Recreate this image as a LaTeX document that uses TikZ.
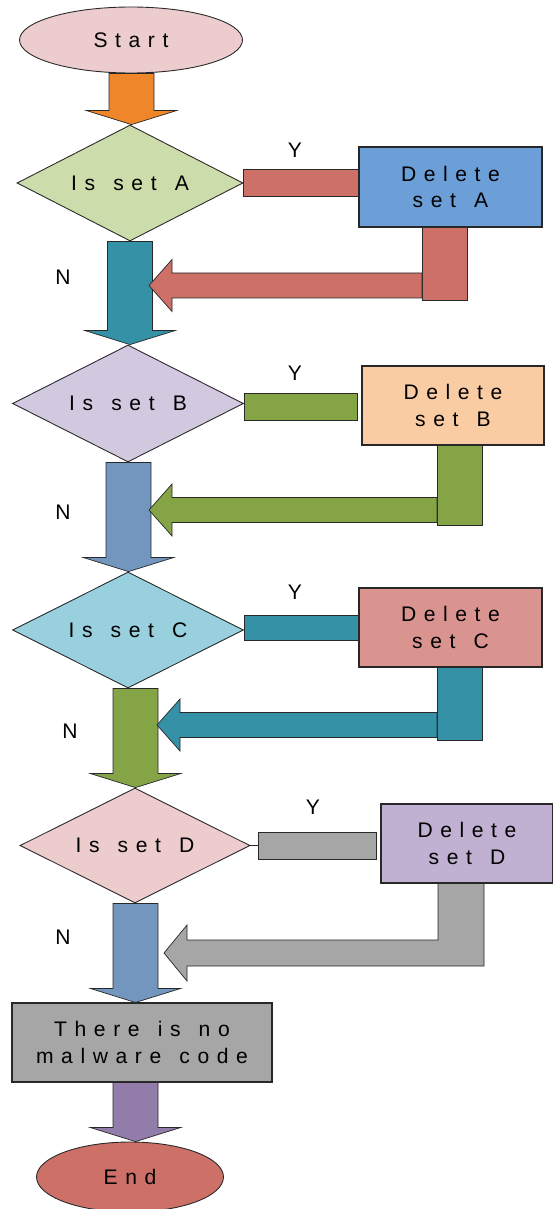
\documentclass[tikz,border=0pt]{standalone}
\usepackage{fontspec}
\setmainfont{Liberation Sans}
\newfontfamily\spaced{Liberation Sans}[LetterSpace=36,WordSpace=1.35]
\usetikzlibrary{shapes.geometric,calc}
\definecolor{pinkc}{RGB}{236,204,204}
\definecolor{orangec}{RGB}{240,134,42}
\definecolor{greenlc}{RGB}{204,220,170}
\definecolor{tealc}{RGB}{53,145,166}
\definecolor{redc}{RGB}{204,112,104}
\definecolor{blueboxc}{RGB}{108,158,216}
\definecolor{lavc}{RGB}{210,200,224}
\definecolor{greenc}{RGB}{132,164,70}
\definecolor{peachc}{RGB}{250,204,164}
\definecolor{bluec}{RGB}{114,150,190}
\definecolor{cyanlc}{RGB}{152,208,222}
\definecolor{rosec}{RGB}{218,148,144}
\definecolor{grayc}{RGB}{166,166,166}
\definecolor{lilacc}{RGB}{192,176,210}
\definecolor{purplec}{RGB}{146,124,170}
\definecolor{edgec}{RGB}{40,40,40}
\newcommand{\lbl}{\spaced\fontsize{12}{15.3}\selectfont}
\newcommand{\ynfont}{\fontsize{12}{14}\selectfont}
\tikzset{
  term/.style={ellipse,draw=edgec,line width=0.5pt,inner sep=0pt,font=\lbl},
  decision/.style={diamond,aspect=2,draw=edgec,line width=0.5pt,inner sep=0pt,font=\lbl},
  action/.style={rectangle,draw=edgec,line width=0.6pt,inner sep=0pt,align=center,font=\lbl},
  yn/.style={font=\ynfont},
  blk/.style={draw=edgec,line width=0.4pt},
}
% block arrow going down: from, to, colour, x of shaft
\newcommand{\blkdown}[4]{%
  \coordinate (ax) at (#4,0);
  \filldraw[blk,fill=#3] ($(#1.south -| ax)+(-22.5,0)$) -- ($(#1.south -| ax)+(22.5,0)$)
    -- ($(#2.north -| ax)+(22.5,-14)$) -- ($(#2.north -| ax)+(45,-14)$) -- (#2.north -| ax)
    -- ($(#2.north -| ax)+(-45,-14)$) -- ($(#2.north -| ax)+(-22.5,-14)$) -- cycle;}
% way back from a delete box: box, tip, colour, x of bar
\newcommand{\blkback}[4]{%
  \coordinate (bx) at (#4,0);
  \filldraw[blk,fill=#3] ($(#1.south -| bx)+(-22.5,0)$) rectangle ($(#2 -| bx)+(22.5,15)$);
  \filldraw[blk,fill=#3] (#2) -- ($(#2)+(23,-26)$) -- ($(#2)+(23,-12.5)$) -- ($(#2 -| bx)+(-22.5,-12.5)$)
    -- ($(#2 -| bx)+(-22.5,12.5)$) -- ($(#2)+(23,12.5)$) -- ($(#2)+(23,26)$) -- cycle;}

\begin{document}
\begin{tikzpicture}[x=0.02cm,y=-0.02cm]
\useasboundingbox (0,0) rectangle (553,1209);
% ---- main column ----
\node[term,fill=pinkc,minimum width=4.46cm,minimum height=1.32cm] (start) at (131,40) {Start};
\node[decision,fill=greenlc,minimum width=4.52cm,minimum height=2.32cm] (decA) at (130,183) {Is set A};
\node[decision,fill=lavc,minimum width=4.62cm,minimum height=2.34cm] (decB) at (128,403.5) {Is set B};
\node[decision,fill=cyanlc,minimum width=4.62cm,minimum height=2.32cm] (decC) at (128,630) {Is set C};
\node[decision,fill=pinkc,minimum width=4.6cm,minimum height=2.3cm] (decD) at (135,845.5) {Is set D};
\node[action,fill=grayc,minimum width=5.2cm,minimum height=1.58cm] (nomal) at (142,1042.5) {There is no\\malware code};
\node[term,fill=redc,minimum width=3.74cm,minimum height=1.4cm] (stop) at (130,1177) {End};
% ---- delete boxes ----
\node[action,fill=blueboxc,minimum width=3.66cm,minimum height=1.6cm] (delA) at (450.5,187) {Delete\\set A};
\node[action,fill=peachc,minimum width=3.64cm,minimum height=1.58cm] (delB) at (453,405.5) {Delete\\set B};
\node[action,fill=rosec,minimum width=3.66cm,minimum height=1.58cm] (delC) at (450.5,627.5) {Delete\\set C};
\node[action,fill=lilacc,minimum width=3.44cm,minimum height=1.58cm] (delD) at (467,843.5) {Delete\\set D};
% ---- labels ----
\node[yn] (yA) at (295,150) {Y};
\node[yn] (yB) at (295,373) {Y};
\node[yn] (yC) at (295,592) {Y};
\node[yn] (yD) at (313,807) {Y};
\node[yn] (nA) at (63,277) {N};
\node[yn] (nB) at (63,512) {N};
\node[yn] (nC) at (70,731) {N};
\node[yn] (nD) at (63,937) {N};
% ---- no branch ----
\blkdown{start}{decA}{orangec}{131.5}
\blkdown{decA}{decB}{tealc}{130}
\blkdown{decB}{decC}{bluec}{128.5}
\blkdown{decC}{decD}{greenc}{135.5}
\blkdown{decD}{nomal}{bluec}{135.5}
\blkdown{nomal}{stop}{purplec}{135.5}
% ---- yes branch ----
\filldraw[blk,fill=redc] ($(decA.east)+(0,-13.5)$) rectangle ($(delA.west |- decA.east)+(0,13.5)$);
\filldraw[blk,fill=greenc] ($(decB.east)+(0,-10)$) rectangle ($(delB.west |- decB.east)+(-4,17)$);
\filldraw[blk,fill=tealc] ($(decC.east)+(0,-15)$) rectangle ($(delC.west |- decC.east)+(0,10)$);
\draw[blk] (decD.east) -- ++(8,0) coordinate (dD);
\filldraw[blk,fill=grayc] ($(dD)+(0,-13.5)$) rectangle ($(delD.west |- decD.east)+(-4,13.5)$);
% ---- way back ----
\coordinate (inA) at (149,285.5);
\coordinate (inB) at (149,510);
\coordinate (inC) at (157,725);
\coordinate (inD) at (164,953);
\blkback{delA}{inA}{redc}{444.5}
\blkback{delB}{inB}{greenc}{459.5}
\blkback{delC}{inC}{tealc}{459.5}
\coordinate (bx) at (461,0);
\filldraw[blk,fill=grayc] (inD) -- ($(inD)+(23,-28)$) -- ($(inD)+(23,-13)$) -- ($(inD -| bx)+(-23,-13)$)
  -- ($(delD.south -| bx)+(-23,0)$) -- ($(delD.south -| bx)+(23,0)$) -- ($(inD -| bx)+(23,13)$)
  -- ($(inD)+(23,13)$) -- ($(inD)+(23,28)$) -- cycle;
\end{tikzpicture}
\end{document}
